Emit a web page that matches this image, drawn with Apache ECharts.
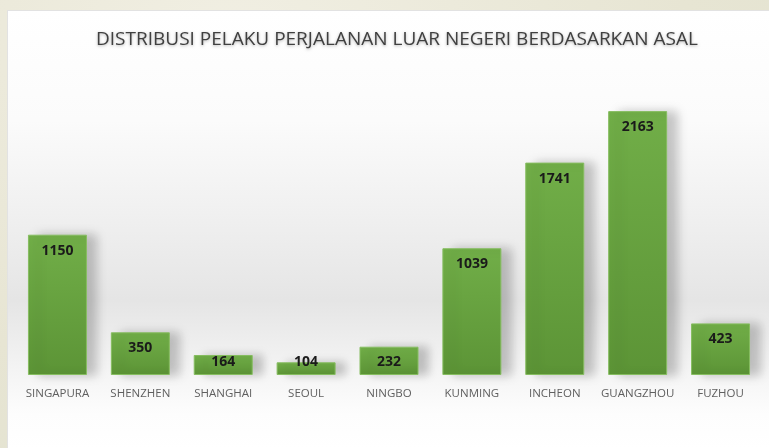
<!DOCTYPE html>
<html>
<head>
<meta charset="utf-8">
<script src="https://cdn.jsdelivr.net/npm/echarts@6/dist/echarts.min.js"></script>
<style>
    html, body {
        margin: 0;
        padding: 0;
        width: 769px;
        height: 448px;
        overflow: hidden;
        background: radial-gradient(ellipse at 30% 10%, #f1efe3 0%, #e7e5d3 60%, #e2e2d0 100%);
    }
    .panel {
        position: absolute;
        left: 7px;
        top: 10px;
        right: -2px;
        bottom: -2px;
        border: 1px solid #e2e2e2;
        background: linear-gradient(to bottom, #ffffff 0%, #fbfbfb 25%, #eeeeee 50%, #e5e5e5 66%, #f2f2f2 80%, #fdfdfd 92%, #ffffff 100%);
    }
    #chart {
        position: absolute;
        left: 0;
        top: 0;
        width: 769px;
        height: 448px;
    }
</style>
</head>
<body>
<div class="panel"></div>
<div id="chart"></div>
<script>
// 数据
const titleText = 'DISTRIBUSI PELAKU PERJALANAN LUAR NEGERI BERDASARKAN ASAL'
const categories = ['SINGAPURA', 'SHENZHEN', 'SHANGHAI', 'SEOUL', 'NINGBO', 'KUNMING', 'INCHEON', 'GUANGZHOU', 'FUZHOU']
const values = [1150, 350, 164, 104, 232, 1039, 1741, 2163, 423]

const myChart = echarts.init(document.getElementById('chart'))

// 矮柱子的标签放在柱子底部
const barData = values.map(v => {
    if (v < 240) {
        return { value: v, label: { position: 'insideBottom', distance: 6 } }
    }
    return v
})

myChart.setOption({
    backgroundColor: 'transparent',
    animation: false,
    title: {
        text: titleText,
        left: 91,
        top: 25,
        textStyle: {
            fontFamily: 'Open Sans',
            fontWeight: 'normal',
            fontSize: 19,
            color: '#404040',
            textShadowColor: 'rgba(0,0,0,0.3)',
            textShadowBlur: 3,
            textShadowOffsetY: 1
        }
    },
    grid: {
        left: 16,
        width: 746,
        top: 70,
        bottom: 73,
        containLabel: false
    },
    xAxis: {
        type: 'category',
        data: categories,
        axisLine: { show: false },
        axisTick: { show: false },
        axisLabel: {
            interval: 0,
            margin: 13,
            color: '#5f5f5f',
            fontFamily: 'Open Sans',
            fontSize: 11.5
        }
    },
    yAxis: {
        type: 'value',
        min: 0,
        max: 2500,
        show: false,
        splitLine: { show: false }
    },
    series: [{
        type: 'bar',
        data: barData,
        barWidth: 59,
        itemStyle: {
            color: new echarts.graphic.LinearGradient(0, 0, 0, 1, [
                { offset: 0, color: '#71ae48' },
                { offset: 1, color: '#5c9436' }
            ]),
            borderColor: '#86bd60',
            borderWidth: 1,
            shadowColor: 'rgba(0,0,0,0.22)',
            shadowBlur: 10,
            shadowOffsetX: 10,
            shadowOffsetY: 0
        },
        label: {
            show: true,
            position: 'insideTop',
            distance: 9,
            color: '#1a1a1a',
            fontWeight: 'bold',
            fontFamily: 'Open Sans',
            fontSize: 14
        }
    }]
})
</script>
</body>
</html>
